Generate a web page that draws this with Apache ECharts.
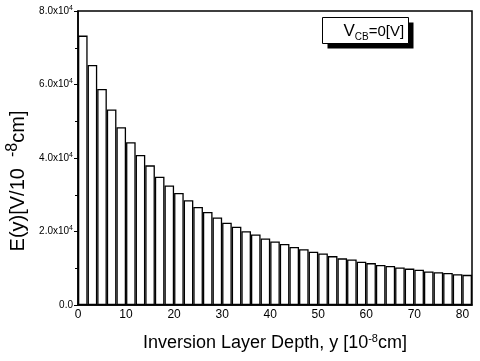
<!DOCTYPE html>
<html>
<head>
<meta charset="utf-8">
<script src="https://cdn.jsdelivr.net/npm/echarts@6/dist/echarts.min.js"></script>
<style>html,body{margin:0;padding:0;background:#fff}#c{width:480px;height:361px}</style>
</head>
<body>
<div id="c"></div>
<script>
// Inversion layer depth bins (10^-8 cm), bar centres
const depth = [1,3,5,7,9,11,13,15,17,19,21,23,25,27,29,31,33,35,37,39,41,43,45,47,49,51,53,55,57,59,61,63,65,67,69,71,73,75,77,79,81];
// Electric field E(y) in V/10^-8 cm
const field = [73300,65300,58800,53200,48400,44300,40800,38000,34900,32500,30500,28500,26700,25300,23800,22400,21300,20100,19200,18100,17300,16600,15800,15200,14500,14000,13300,12700,12400,11800,11400,10900,10600,10200,9900,9600,9100,8900,8700,8400,8200];
const xTicks = [0,10,20,30,40,50,60,70,80];
const yTicks = [0,20000,40000,60000,80000];

const chart = echarts.init(document.getElementById('c'));
const font = 'Liberation Sans, Arial, sans-serif';
chart.setOption({
  animation: false,
  grid: {left: 78, right: 8, top: 11, bottom: 56, outerBoundsMode: 'none', containLabel: false, show: true, borderColor: '#000', borderWidth: 1.5, backgroundColor: '#fff'},
  xAxis: {
    type: 'value', min: 0, max: 82,
    axisLine: {show: true, onZero: false, lineStyle: {color: '#000', width: 1.5}},
    axisTick: {show: false},
    splitLine: {show: false},
    axisLabel: {customValues: xTicks, color: '#000', fontFamily: font, fontSize: 12, margin: 4},
    name: '{n|Inversion Layer Depth, y [10}{s|-8}{n|cm]}',
    nameLocation: 'middle', nameGap: 28,
    nameTextStyle: {rich: {n: {fontFamily: font, fontSize: 18, color: '#000'}, s: {fontFamily: font, fontSize: 11, color: '#000', padding: [0,0,9,0]}}}
  },
  yAxis: {
    type: 'value', min: 0, max: 80000, interval: 20000,
    axisLine: {show: true, lineStyle: {color: '#000', width: 1.5}},
    axisTick: {show: true, length: 4, lineStyle: {color: '#000'}},
    minorTick: {show: true, splitNumber: 2, length: 3, lineStyle: {color: '#000'}},
    splitLine: {show: false},
    axisLabel: {
      color: '#000', margin: 5,
      formatter: function (v) { return v === 0 ? '{a|0.0}' : '{a|' + (v / 10000).toFixed(1) + 'x10}{s|4}'; },
      rich: {a: {fontFamily: font, fontSize: 10, color: '#000'}, s: {fontFamily: font, fontSize: 7, color: '#000', padding: [0,0,6,0]}}
    },
    name: '{n|E(y)[V/10  }{s|-8}{n|cm]}',
    nameLocation: 'middle', nameGap: 47, nameRotate: 90,
    nameTextStyle: {padding: [0, 46, 0, 0], rich: {n: {fontFamily: font, fontSize: 20, color: '#000'}, s: {fontFamily: font, fontSize: 16, color: '#000', padding: [0,0,10,0]}}}
  },
  graphic: [{
    type: 'group', left: 322, top: 17,
    children: [
      {type: 'rect', shape: {x: 5, y: 5, width: 86, height: 26}, style: {fill: '#000'}},
      {type: 'rect', shape: {x: 0, y: 0, width: 86, height: 26}, style: {fill: '#fff', stroke: '#000', lineWidth: 1}},
      {type: 'text', x: 21, y: 3, style: {text: '{v|V}{s|CB}{t|=0[V]}', rich: {v: {fontFamily: font, fontSize: 17, color: '#000'}, s: {fontFamily: font, fontSize: 10, color: '#000', padding: [12,0,0,0]}, t: {fontFamily: font, fontSize: 15, color: '#000'}}}}
    ]
  }],
  series: [{
    type: 'bar',
    data: depth.map((d, i) => [d, field[i]]),
    barWidth: 9.6,
    itemStyle: {color: '#fff', borderColor: '#000', borderWidth: 1.3},
    silent: true
  }]
});
</script>
</body>
</html>
